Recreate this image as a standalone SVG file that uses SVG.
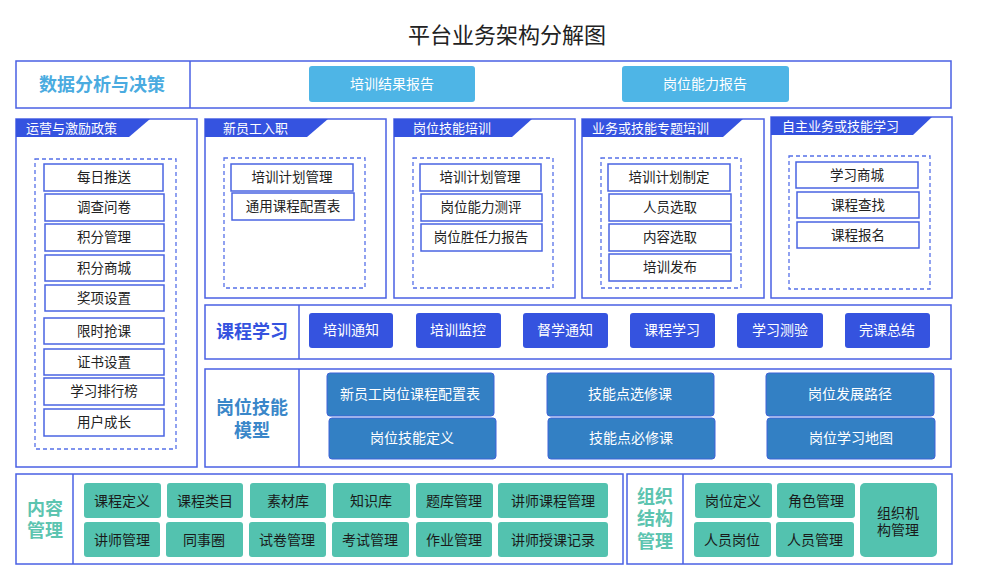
<svg xmlns="http://www.w3.org/2000/svg" width="993" height="573" viewBox="0 0 993 573">
<style>
text{font-family:"Noto Sans CJK SC","Liberation Sans",sans-serif;}
.title{font-size:22px;fill:#222;text-anchor:middle;}
.panel{fill:#fff;stroke:#4a60e4;stroke-width:1.5;}
.div{stroke:#4a60e4;stroke-width:1.5;}
.hdr{fill:#3553e0;}
.hdrt{font-size:13px;fill:#fff;}
.dash{fill:none;stroke:#5670e8;stroke-width:1.3;stroke-dasharray:4 3;}
.item{fill:#fff;stroke:#4a64e2;stroke-width:1.5;}
.it{font-size:13.5px;fill:#222;text-anchor:middle;}
.lb{fill:#4eb5e6;}
.wt{font-size:14px;fill:#fff;text-anchor:middle;}
.bb{fill:#3553df;}
.mb{fill:#3380c4;stroke:#3f62d8;stroke-width:1;}
.tb{fill:#53c2af;}
.tt{font-size:14px;fill:#1a1a1a;text-anchor:middle;}
.big{font-size:18px;font-weight:bold;text-anchor:middle;}
</style>
<rect width="993" height="573" fill="#fff"/>
<text class="title" x="507" y="43">平台业务架构分解图</text>

<g id="data-analysis">
<rect class="panel" x="16" y="61" width="935" height="47"/>
<line class="div" x1="190" y1="61" x2="190" y2="108"/>
<text class="big" x="102" y="91" fill="#4aabe0">数据分析与决策</text>
<rect class="lb" x="309" y="66" width="166" height="36" rx="3"/>
<text class="wt" x="392" y="89">培训结果报告</text>
<rect class="lb" x="622" y="66" width="167" height="36" rx="3"/>
<text class="wt" x="705" y="89">岗位能力报告</text>
</g>

<g id="ops">
<rect class="panel" x="16" y="119" width="181" height="348"/>
<polygon class="hdr" points="16,119 150,119 129,137 16,137"/>
<text class="hdrt" x="26" y="133">运营与激励政策</text>
<rect class="dash" x="35" y="159" width="141" height="290"/>
<rect class="item" x="44" y="164" width="119" height="27"/><text class="it" x="104" y="182">每日推送</text>
<rect class="item" x="45" y="194" width="119" height="27"/><text class="it" x="104" y="212">调查问卷</text>
<rect class="item" x="45" y="224" width="119" height="27"/><text class="it" x="104" y="242">积分管理</text>
<rect class="item" x="45" y="255" width="119" height="26"/><text class="it" x="104" y="273">积分商城</text>
<rect class="item" x="45" y="285" width="119" height="26"/><text class="it" x="104" y="303">奖项设置</text>
<rect class="item" x="44" y="318" width="120" height="26"/><text class="it" x="104" y="336">限时抢课</text>
<rect class="item" x="44" y="349" width="120" height="26"/><text class="it" x="104" y="367">证书设置</text>
<rect class="item" x="44" y="378" width="120" height="27"/><text class="it" x="104" y="396">学习排行榜</text>
<rect class="item" x="44" y="409" width="120" height="27"/><text class="it" x="104" y="427">用户成长</text>
</g>

<g id="new-employee">
<rect class="panel" x="205" y="119" width="181" height="179"/>
<polygon class="hdr" points="205,119 328,119 307,137 205,137"/>
<text class="hdrt" x="223" y="133">新员工入职</text>
<rect class="dash" x="224" y="158" width="141" height="130"/>
<rect class="item" x="231" y="164" width="122" height="27"/><text class="it" x="292" y="182">培训计划管理</text>
<rect class="item" x="232" y="193" width="122" height="27"/><text class="it" x="293" y="211">通用课程配置表</text>
</g>

<g id="post-skill-training">
<rect class="panel" x="394" y="119" width="181" height="179"/>
<polygon class="hdr" points="394,119 532,119 512,137 394,137"/>
<text class="hdrt" x="413" y="133">岗位技能培训</text>
<rect class="dash" x="413" y="158" width="140" height="130"/>
<rect class="item" x="420" y="164" width="121" height="27"/><text class="it" x="480" y="182">培训计划管理</text>
<rect class="item" x="421" y="194" width="121" height="27"/><text class="it" x="481" y="212">岗位能力测评</text>
<rect class="item" x="421" y="224" width="121" height="27"/><text class="it" x="481" y="242">岗位胜任力报告</text>
</g>

<g id="topic-training">
<rect class="panel" x="582" y="119" width="182" height="179"/>
<polygon class="hdr" points="582,119 743,119 723,137 582,137"/>
<text class="hdrt" x="592" y="133">业务或技能专题培训</text>
<rect class="dash" x="601" y="158" width="140" height="130"/>
<rect class="item" x="608" y="164" width="122" height="27"/><text class="it" x="669" y="182">培训计划制定</text>
<rect class="item" x="609" y="194" width="122" height="27"/><text class="it" x="670" y="212">人员选取</text>
<rect class="item" x="609" y="224" width="122" height="27"/><text class="it" x="670" y="242">内容选取</text>
<rect class="item" x="609" y="254" width="122" height="27"/><text class="it" x="670" y="272">培训发布</text>
</g>

<g id="self-learning">
<rect class="panel" x="771" y="117" width="181" height="181"/>
<polygon class="hdr" points="771,117 932,117 913,135 771,135"/>
<text class="hdrt" x="782" y="131">自主业务或技能学习</text>
<rect class="dash" x="789" y="156" width="141" height="133"/>
<rect class="item" x="796" y="162" width="122" height="26"/><text class="it" x="857" y="180">学习商城</text>
<rect class="item" x="797" y="192" width="122" height="26"/><text class="it" x="858" y="210">课程查找</text>
<rect class="item" x="797" y="222" width="122" height="26"/><text class="it" x="858" y="240">课程报名</text>
</g>

<g id="course-learning">
<rect class="panel" x="205" y="305" width="746" height="54"/>
<line class="div" x1="299" y1="305" x2="299" y2="359"/>
<text class="big" x="252" y="338" fill="#3553df">课程学习</text>
<rect class="bb" x="309" y="313" width="84" height="35" rx="3"/><text class="wt" x="351" y="335">培训通知</text>
<rect class="bb" x="416" y="313" width="85" height="35" rx="3"/><text class="wt" x="458" y="335">培训监控</text>
<rect class="bb" x="523" y="313" width="85" height="35" rx="3"/><text class="wt" x="565" y="335">督学通知</text>
<rect class="bb" x="630" y="313" width="85" height="35" rx="3"/><text class="wt" x="672" y="335">课程学习</text>
<rect class="bb" x="737" y="313" width="86" height="35" rx="3"/><text class="wt" x="780" y="335">学习测验</text>
<rect class="bb" x="845" y="313" width="85" height="35" rx="3"/><text class="wt" x="887" y="335">完课总结</text>
</g>

<g id="skill-model">
<rect class="panel" x="205" y="369" width="746" height="98"/>
<line class="div" x1="299" y1="369" x2="299" y2="467"/>
<text class="big" fill="#3a87c9"><tspan x="252" y="414">岗位技能</tspan><tspan x="252" y="437">模型</tspan></text>
<rect class="mb" x="327" y="373" width="167" height="43" rx="3"/><text class="wt" x="410" y="399">新员工岗位课程配置表</text>
<rect class="mb" x="329" y="418" width="167" height="41" rx="3"/><text class="wt" x="412" y="443">岗位技能定义</text>
<rect class="mb" x="547" y="373" width="167" height="43" rx="3"/><text class="wt" x="630" y="399">技能点选修课</text>
<rect class="mb" x="548" y="418" width="167" height="41" rx="3"/><text class="wt" x="631" y="443">技能点必修课</text>
<rect class="mb" x="766" y="373" width="168" height="43" rx="3"/><text class="wt" x="850" y="399">岗位发展路径</text>
<rect class="mb" x="767" y="418" width="168" height="41" rx="3"/><text class="wt" x="851" y="443">岗位学习地图</text>
</g>

<g id="content-mgmt">
<rect class="panel" x="16" y="474" width="607" height="90"/>
<line class="div" x1="73" y1="474" x2="73" y2="564"/>
<text class="big" fill="#5cc4b0"><tspan x="45" y="515">内容</tspan><tspan x="45" y="537">管理</tspan></text>
<rect class="tb" x="84" y="483" width="77" height="35" rx="3"/><text class="tt" x="122" y="506">课程定义</text>
<rect class="tb" x="167" y="483" width="76" height="35" rx="3"/><text class="tt" x="205" y="506">课程类目</text>
<rect class="tb" x="250" y="483" width="76" height="35" rx="3"/><text class="tt" x="288" y="506">素材库</text>
<rect class="tb" x="333" y="483" width="77" height="35" rx="3"/><text class="tt" x="371" y="506">知识库</text>
<rect class="tb" x="416" y="483" width="77" height="35" rx="3"/><text class="tt" x="454" y="506">题库管理</text>
<rect class="tb" x="498" y="483" width="110" height="35" rx="3"/><text class="tt" x="553" y="506">讲师课程管理</text>
<rect class="tb" x="84" y="522" width="76" height="35" rx="3"/><text class="tt" x="122" y="545">讲师管理</text>
<rect class="tb" x="166" y="522" width="77" height="35" rx="3"/><text class="tt" x="204" y="545">同事圈</text>
<rect class="tb" x="249" y="522" width="77" height="35" rx="3"/><text class="tt" x="287" y="545">试卷管理</text>
<rect class="tb" x="332" y="522" width="77" height="35" rx="3"/><text class="tt" x="370" y="545">考试管理</text>
<rect class="tb" x="416" y="522" width="76" height="35" rx="3"/><text class="tt" x="454" y="545">作业管理</text>
<rect class="tb" x="498" y="522" width="110" height="35" rx="3"/><text class="tt" x="553" y="545">讲师授课记录</text>
</g>

<g id="org-mgmt">
<rect class="panel" x="627" y="474" width="325" height="90"/>
<line class="div" x1="683" y1="474" x2="683" y2="564"/>
<text class="big" fill="#5cc4b0"><tspan x="655" y="503">组织</tspan><tspan x="655" y="525">结构</tspan><tspan x="655" y="548">管理</tspan></text>
<rect class="tb" x="695" y="483" width="77" height="35" rx="3"/><text class="tt" x="733" y="506">岗位定义</text>
<rect class="tb" x="777" y="483" width="78" height="35" rx="3"/><text class="tt" x="816" y="506">角色管理</text>
<rect class="tb" x="694" y="522" width="77" height="35" rx="3"/><text class="tt" x="732" y="545">人员岗位</text>
<rect class="tb" x="776" y="522" width="78" height="35" rx="3"/><text class="tt" x="815" y="545">人员管理</text>
<rect class="tb" x="860" y="483" width="77" height="74" rx="5"/>
<text class="tt"><tspan x="898" y="518">组织机</tspan><tspan x="898" y="535">构管理</tspan></text>
</g>
</svg>
